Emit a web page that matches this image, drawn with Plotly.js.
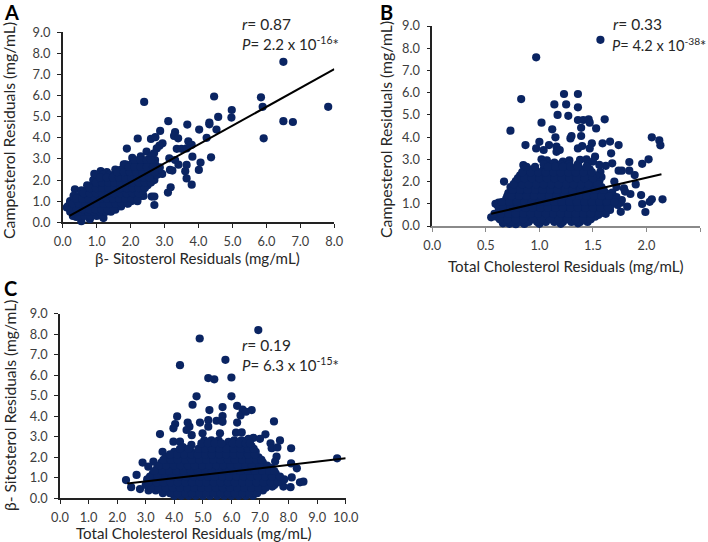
<!DOCTYPE html>
<html><head><meta charset="utf-8">
<script src="https://cdn.plot.ly/plotly-3.0.1.min.js"></script>
<style>html,body{margin:0;padding:0;background:#fff}</style></head>
<body><div id="chart" style="width:708px;height:542px"></div>
<script>
// Panel A: beta-sitosterol (x) vs campesterol (y)
const aSparseX=[6.5,7.82,5.84,5.89,6.5,6.78,5.92,4.46,2.4,4.98,4.97,4.58,3.11,3.67,4.32,4.32,4.53,4.02,2.87,3.31,3.28,3.4,4.24,2.21,2.6,2.73,3.7,3.8,2.94,2.85,2.77,2.69,3.36,3.5,3.65,1.89,2.47,3.82,4.37,3.14,3.31,4.06,3.41,3.65,4.01,3.16,3.23,3.61,3.65,3.8,3.18,3.1,2.93,2.62,2.7,2.7,0.36,0.93,1.15,1.6,1.8,2.05,2.3,2.55,0.55,0.75,0.12,0.22,0.4,0.55,0.8,1.2,2.72,2.62,2.86,1.72,1.9,1.55,2.38,1.12,1.3];
const aSparseY=[7.6,5.47,5.92,5.47,4.79,4.75,3.98,5.96,5.7,5.32,4.96,4.99,4.79,4.63,4.72,4.64,4.39,4.39,4.33,4.27,4.09,3.98,4.0,3.97,3.95,4.03,3.84,3.67,3.74,3.63,3.5,3.27,3.48,3.48,3.5,3.49,3.35,3.11,3.08,3.03,2.95,2.83,2.73,2.72,2.48,2.48,2.45,2.42,2.08,1.78,1.66,1.41,2.29,1.22,1.22,0.82,1.56,2.29,2.32,2.45,2.75,3.05,3.12,3.0,1.5,1.65,0.7,0.95,0.25,0.05,0.15,0.2,2.95,3.15,2.6,0.85,0.9,0.6,1.25,2.42,2.38];
const aRowY=[0.3,0.5,0.75,1.0,1.25,1.5,1.75,2.0,2.25,2.5,2.75,2.95,0.62,0.88,1.12,1.38,1.62,1.88,2.12,2.38,2.62];
const aRowX=[
 [0.3,0.47,0.65,0.82,1.0,1.18],
 [0.22,0.4,0.57,0.75,0.93,1.1,1.28,1.42],
 [0.15,0.33,0.5,0.68,0.85,1.03,1.2,1.38,1.55,1.72],
 [0.22,0.4,0.58,0.76,0.94,1.12,1.3,1.48,1.66,1.84,2.02,2.2],
 [0.32,0.5,0.68,0.86,1.04,1.22,1.4,1.58,1.76,1.94,2.12,2.3],
 [0.55,0.72,0.9,1.08,1.26,1.44,1.62,1.8,1.98,2.16,2.36],
 [0.72,0.9,1.08,1.26,1.44,1.62,1.8,1.98,2.16,2.34,2.5],
 [0.9,1.08,1.26,1.44,1.62,1.8,1.98,2.16,2.34,2.52,2.7],
 [1.0,1.2,1.38,1.56,1.74,1.92,2.1,2.28,2.46,2.64,2.78],
 [1.55,1.72,1.9,2.08,2.26,2.44,2.62,2.8],
 [1.85,2.02,2.2,2.38,2.56,2.72],
 [2.12,2.3,2.48,2.6],
 [0.25,0.42,0.6,0.78,0.96,1.14,1.32,1.5],
 [0.3,0.48,0.66,0.84,1.02,1.2,1.38,1.56,1.74,1.92],
 [0.4,0.58,0.76,0.94,1.12,1.3,1.48,1.66,1.84,2.02,2.2],
 [0.62,0.8,0.98,1.16,1.34,1.52,1.7,1.88,2.06,2.24],
 [0.8,0.98,1.16,1.34,1.52,1.7,1.88,2.06,2.24,2.42],
 [0.98,1.16,1.34,1.52,1.7,1.88,2.06,2.24,2.42,2.6],
 [1.1,1.3,1.48,1.66,1.84,2.02,2.2,2.38,2.56],
 [1.6,1.8,1.98,2.16,2.34,2.52,2.7],
 [1.95,2.12,2.3,2.48,2.66]];
const aLineX=[0.2,8.0];
const aLineY=[0.3,7.25];

// Panel B: total cholesterol (x) vs campesterol (y)
const bSparseX=[1.57,0.97,0.83,1.23,1.36,1.14,1.25,1.36,1.17,1.27,1.36,1.41,1.46,1.47,1.61,1.53,1.02,1.12,0.73,1.39,1.39,1.3,1.29,1.15,1.0,2.05,2.12,2.13,1.66,1.59,1.74,1.49,0.87,1.09,0.97,1.04,1.16,1.16,1.19,1.36,1.4,1.47,1.67,1.52,2.02,1.96,1.84,1.68,1.62,1.74,1.77,1.57,1.84,1.89,0.67,1.9,1.79,1.85,1.95,1.96,2.03,2.05,2.15,1.99,1.76,1.82,1.77,1.72,1.66,0.85,0.55,0.86,0.59,0.62,1.02,1.07,1.14,1.22,1.28,1.38,1.44,1.5,1.56,1.58,1.7,1.72,1.8,1.68,1.72,1.76,1.6,1.62,1.55,1.66,0.66,0.72,0.78,1.0,1.2,1.36];
const bSparseY=[8.38,7.59,5.71,5.94,5.94,5.47,5.47,5.34,5.0,4.96,4.77,4.77,4.8,4.65,4.8,4.39,4.65,4.35,4.29,4.42,4.05,4.05,3.94,3.99,3.79,3.99,3.85,3.63,3.8,3.72,3.64,3.72,3.64,3.64,3.49,3.42,3.57,3.34,3.42,3.49,3.6,3.49,3.27,3.12,3.0,2.8,2.88,2.82,2.71,2.49,2.49,2.44,2.49,2.29,2.0,1.87,1.69,1.44,1.39,0.99,1.09,1.2,1.2,0.63,0.64,0.87,1.17,1.09,0.72,2.74,0.39,0.09,1.0,1.05,3.0,2.95,2.85,2.9,2.95,2.98,3.0,2.9,2.75,2.2,2.0,1.75,1.55,1.5,1.3,1.05,0.6,0.55,0.5,0.9,0.12,0.1,0.08,0.1,0.1,0.12];
const bRowY=[0.18,0.42,0.68,0.95,1.22,1.48,1.75,2.02,2.28,2.55,2.78,0.3,0.55,0.82,1.08,1.35,1.62,1.88,2.15,2.42,2.66];
const bRowX=[
 [0.66,0.74,0.82,0.9,0.98,1.06,1.14,1.22,1.3,1.38,1.45],
 [0.6,0.67,0.74,0.81,0.88,0.95,1.02,1.09,1.16,1.23,1.3,1.37,1.44,1.52],
 [0.63,0.7,0.77,0.84,0.91,0.98,1.05,1.12,1.19,1.26,1.33,1.4,1.47,1.54,1.62],
 [0.61,0.68,0.75,0.82,0.89,0.96,1.03,1.1,1.17,1.24,1.31,1.38,1.45,1.52,1.59,1.66,1.73],
 [0.69,0.76,0.83,0.9,0.97,1.04,1.11,1.18,1.25,1.32,1.39,1.46,1.53,1.6,1.68],
 [0.71,0.78,0.85,0.92,0.99,1.06,1.13,1.2,1.27,1.34,1.41,1.48,1.55,1.62],
 [0.73,0.8,0.87,0.94,1.01,1.08,1.15,1.22,1.29,1.36,1.43,1.5,1.58],
 [0.78,0.85,0.92,0.99,1.06,1.13,1.2,1.27,1.34,1.41,1.48,1.56],
 [0.82,0.89,0.96,1.03,1.1,1.17,1.24,1.31,1.38,1.45,1.53],
 [0.86,0.93,1.04,1.11,1.18,1.25,1.32,1.39,1.47],
 [1.04,1.12,1.2,1.28,1.36,1.45],
 [0.63,0.7,0.78,0.85,0.94,1.02,1.1,1.18,1.26,1.34,1.41,1.48],
 [0.58,0.64,0.71,0.78,0.85,0.92,0.99,1.06,1.13,1.2,1.27,1.34,1.41,1.48,1.56],
 [0.62,0.66,0.73,0.8,0.87,0.94,1.01,1.08,1.15,1.22,1.29,1.36,1.43,1.5,1.57,1.64],
 [0.65,0.72,0.79,0.86,0.93,1.0,1.07,1.14,1.21,1.28,1.35,1.42,1.49,1.56,1.63,1.7],
 [0.7,0.74,0.81,0.88,0.95,1.02,1.09,1.16,1.23,1.3,1.37,1.44,1.51,1.58,1.65],
 [0.75,0.82,0.89,0.96,1.03,1.1,1.17,1.24,1.31,1.38,1.45,1.52,1.6],
 [0.76,0.84,0.9,0.97,1.04,1.11,1.18,1.25,1.32,1.39,1.46,1.54],
 [0.8,0.86,0.93,1.0,1.07,1.14,1.21,1.28,1.35,1.42,1.5],
 [0.84,0.92,0.99,1.06,1.13,1.2,1.27,1.34,1.41,1.49],
 [0.88,0.96,1.08,1.15,1.22,1.29,1.36,1.44]];
const bLineX=[0.55,2.14];
const bLineY=[0.55,2.33];

// Panel C: total cholesterol (x) vs beta-sitosterol (y)
const cSparseX=[6.94,4.89,5.79,4.2,5.19,5.4,6.0,4.78,6.0,4.64,5.23,5.69,6.2,6.39,6.71,6.32,6.51,4.1,5.69,3.5,7.49,5.19,5.19,4.9,5.48,5.69,4.47,4.53,4.03,3.97,4.61,4.43,6.2,5.6,6.16,6.36,7.19,6.77,7.0,4.99,7.7,7.37,7.41,7.61,8.09,3.97,4.2,3.59,7.58,7.53,8.09,8.29,9.7,2.31,2.49,2.68,2.8,2.89,8.07,8.4,8.52,8.11,7.82,7.76,7.43,3.27,3.09,4.3,4.6,5.9,6.6];
const cSparseY=[8.2,7.79,6.75,6.49,5.86,5.8,5.89,4.97,4.97,4.56,4.3,4.45,4.51,4.33,4.3,4.04,4.22,3.99,4.01,3.13,3.75,3.81,3.49,3.69,3.78,3.73,3.69,3.49,3.62,3.41,3.08,3.33,3.69,3.17,3.2,3.21,3.12,2.95,2.9,3.17,2.82,2.68,2.44,2.48,2.44,2.76,2.76,2.27,2.03,1.79,1.7,1.46,1.95,0.89,0.54,1.14,0.45,1.74,0.54,0.78,0.81,1.02,0.57,0.89,0.57,1.79,1.54,2.5,2.6,2.75,2.9];
const cRowY=[0.12,0.38,0.65,0.92,1.2,1.47,1.74,2.0,2.27,2.55,2.82,0.25,0.52,0.78,1.06,1.33,1.6,1.87,2.14,2.41,2.68];
const cRowX=[
 [4.0,4.25,4.5,4.75,5.0,5.25,5.5,5.75,6.0,6.25,6.5,6.75],
 [3.1,3.35,3.6,3.85,4.1,4.35,4.6,4.85,5.1,5.35,5.6,5.85,6.1,6.35,6.6,6.85,7.1],
 [3.0,3.25,3.5,3.75,4.0,4.25,4.5,4.75,5.0,5.25,5.5,5.75,6.0,6.25,6.5,6.75,7.0,7.25,7.5],
 [3.05,3.3,3.55,3.8,4.05,4.3,4.55,4.8,5.05,5.3,5.55,5.8,6.05,6.3,6.55,6.8,7.05,7.3,7.55,7.85],
 [3.25,3.5,3.75,4.0,4.25,4.5,4.75,5.0,5.25,5.5,5.75,6.0,6.25,6.5,6.75,7.0,7.25,7.55],
 [3.4,3.65,3.9,4.15,4.4,4.65,4.9,5.15,5.4,5.65,5.9,6.15,6.4,6.65,6.9,7.15,7.4],
 [3.55,3.8,4.05,4.3,4.55,4.8,5.05,5.3,5.55,5.8,6.05,6.3,6.55,6.8,7.1],
 [3.7,3.95,4.2,4.45,4.7,4.95,5.2,5.45,5.7,5.95,6.2,6.45,6.7,6.95],
 [4.0,4.3,4.6,4.9,5.15,5.4,5.65,5.9,6.15,6.4,6.65,6.85],
 [4.95,5.2,5.45,5.7,5.95,6.2,6.45,6.7],
 [5.05,5.3,5.55,6.1,6.35,6.55],
 [3.6,3.85,4.12,4.38,4.62,4.88,5.12,5.38,5.62,5.88,6.12,6.38,6.62,6.9],
 [3.2,3.45,3.7,3.95,4.2,4.45,4.7,4.95,5.2,5.45,5.7,5.95,6.2,6.45,6.7,6.95,7.2],
 [3.1,3.38,3.62,3.88,4.12,4.38,4.62,4.88,5.12,5.38,5.62,5.88,6.12,6.38,6.62,6.88,7.12,7.38,7.62],
 [3.15,3.42,3.68,3.92,4.18,4.42,4.68,4.92,5.18,5.42,5.68,5.92,6.18,6.42,6.68,6.92,7.18,7.42,7.7],
 [3.3,3.58,3.82,4.08,4.32,4.58,4.82,5.08,5.32,5.58,5.82,6.08,6.32,6.58,6.82,7.08,7.32,7.5],
 [3.48,3.72,3.98,4.22,4.48,4.72,4.98,5.22,5.48,5.72,5.98,6.22,6.48,6.72,6.98,7.25],
 [3.62,3.88,4.12,4.38,4.62,4.88,5.12,5.38,5.62,5.88,6.12,6.38,6.62,6.88,7.05],
 [3.85,4.1,4.35,4.6,4.82,5.08,5.32,5.58,5.82,6.08,6.32,6.58,6.82],
 [4.2,4.5,4.85,5.08,5.32,5.58,5.82,6.08,6.32,6.58,6.78],
 [4.95,5.18,5.42,5.65,6.05,6.28,6.5,6.65]];
const cLineX=[2.35,10.0];
const cLineY=[0.72,1.95];

const xTicksA=[0,1,2,3,4,5,6,7,8];
const xTicksB=[0,0.5,1,1.5,2,2.5];
const xTicksC=[0,1,2,3,4,5,6,7,8,9,10];
const yTicks=[0,1,2,3,4,5,6,7,8,9];

const W=708,H=542,NAVY='#0a2462',FONT='Lato, Carlito, "Open Sans", sans-serif',TXT='#3c3c3c';
function expand(rowX,rowY){const xs=[],ys=[];rowX.forEach((r,i)=>r.forEach(v=>{xs.push(v);ys.push(rowY[i]);}));return [xs,ys];}
function traces(sx,sy,rx,ry,lx,ly,n){
 const [cx,cy]=expand(rx,ry);
 return [
  {type:'scatter',mode:'markers',x:sx.concat(cx),y:sy.concat(cy),xaxis:'x'+n,yaxis:'y'+n,cliponaxis:false,
   marker:{color:NAVY,size:8.2,line:{width:0}},hoverinfo:'x+y'},
  {type:'scatter',mode:'lines',x:lx,y:ly,xaxis:'x'+n,yaxis:'y'+n,cliponaxis:false,line:{color:'#000',width:2},hoverinfo:'skip'}
 ];
}
function axis(l,r,t,b,isX,range,vals,anchor,col){
 return {domain:isX?[l/W,r/W]:[1-b/H,1-t/H],range:range,tickmode:'array',tickvals:vals,ticktext:vals.map(v=>v.toFixed(1)),
  showgrid:false,zeroline:false,showline:true,linecolor:col,linewidth:1.5,ticks:'outside',ticklen:4,tickcolor:col,tickwidth:1,
  ticklabelstandoff:isX?3:4,tickfont:{family:FONT,size:12.8,color:TXT},anchor:anchor,layer:'below traces'};
}
function note(text,x,y,opts){return Object.assign({text:text,xref:'paper',yref:'paper',x:x/W,y:1-y/H,showarrow:false,xanchor:'left',yanchor:'middle',
  font:{family:FONT,size:15,color:'#262626'}},opts||{});}
function axTitle(text,x,y,rot,size){return note(text,x,y,{xanchor:'center',textangle:rot||0,font:{family:FONT,size:size||15.1,color:'#262626'}});}
function letter(t,x,y){return note('<b>'+t+'</b>',x,y,{font:{family:FONT,size:20,color:'#000'}});}
const rFont={family:FONT,size:15.5,color:'#262626'};

const data=[].concat(
 traces(aSparseX,aSparseY,aRowX,aRowY,aLineX,aLineY,''),
 traces(bSparseX,bSparseY,bRowX,bRowY,bLineX,bLineY,'2'),
 traces(cSparseX,cSparseY,cRowX,cRowY,cLineX,cLineY,'3'));
const layout={width:W,height:H,margin:{l:0,r:0,t:0,b:0},paper_bgcolor:'#fff',plot_bgcolor:'rgba(0,0,0,0)',showlegend:false,
 xaxis:axis(62.7,334.3,32.3,222.3,true,[0,8],xTicksA,'y','#222'),
 yaxis:axis(62.7,334.3,32.3,222.3,false,[0,9],yTicks,'x','#222'),
 xaxis2:axis(432.3,700,26,226,true,[0,2.5],xTicksB,'y2','#8a8a8a'),
 yaxis2:axis(432.3,700,26,226,false,[0,9],yTicks,'x2','#222'),
 xaxis3:axis(60,345.7,313.7,498.3,true,[0,10],xTicksC,'y3','#222'),
 yaxis3:axis(60,345.7,313.7,498.3,false,[0,9],yTicks,'x3','#222'),
 annotations:[
  letter('A',2,12),letter('B',378,12),letter('C',2,288),
  note('<i>r</i>= 0.87',240,24,{font:rFont}),note('<i>P</i>= 2.2 x 10<sup>-16</sup>*',240,43),
  note('<i>r</i>= 0.33',611,24,{font:rFont}),note('<i>P</i>= 4.2 x 10<sup>-38</sup>*',610,44,{font:{family:FONT,size:14.6,color:'#262626'}}),
  note('<i>r</i>= 0.19',240,345,{font:rFont}),note('<i>P</i>= 6.3 x 10<sup>-15</sup>*',240,364),
  axTitle('β- Sitosterol Residuals (mg/mL)',198,258),
  axTitle('Campesterol Residuals (mg/mL)',9,131,-90,15.8),
  axTitle('Total Cholesterol Residuals (mg/mL)',566,266),
  axTitle('Campesterol Residuals (mg/mL)',385,129,-90,15.8),
  axTitle('Total Cholesterol Residuals (mg/mL)',194,533),
  axTitle('β- Sitosterol Residuals (mg/mL)',10,406,-90,15.6)
 ]};
Plotly.newPlot('chart',data,layout,{displayModeBar:false,responsive:false});
</script></body></html>
